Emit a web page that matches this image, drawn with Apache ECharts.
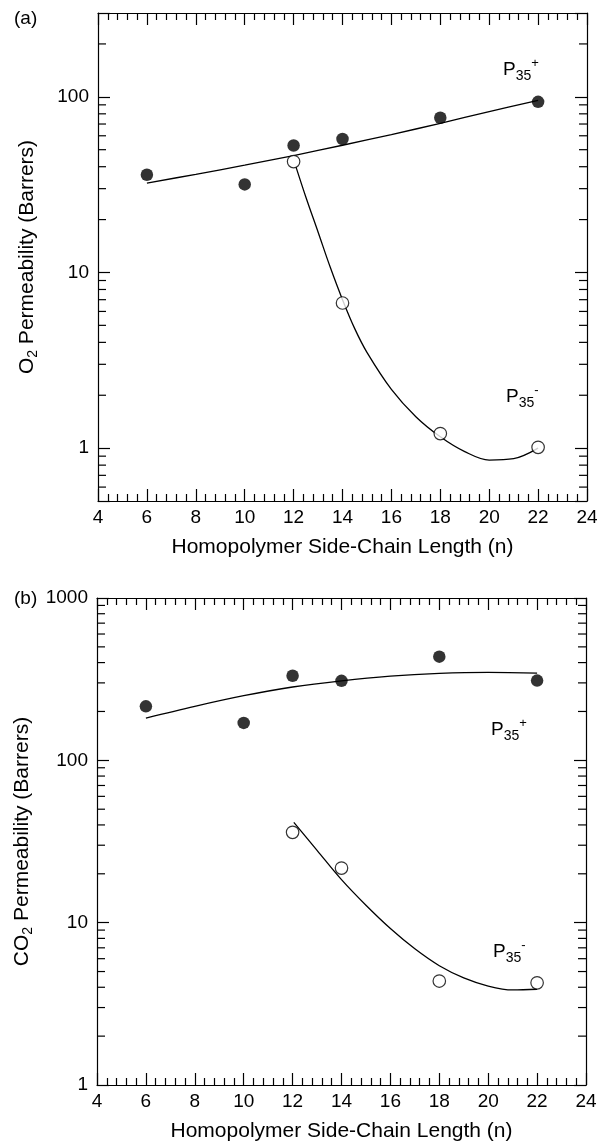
<!DOCTYPE html>
<html><head><meta charset="utf-8">
<script src="https://cdn.jsdelivr.net/npm/echarts@6/dist/echarts.min.js"></script>
<style>html,body{margin:0;padding:0;background:#fff}#c{width:603px;height:1143px}</style>
</head><body><div id="c"></div>
<script>
// ---------- data ----------
// Panel (a): O2 permeability
const nFilledA = [6, 10, 12, 14, 18, 22];
const o2Plus   = [36, 31.7, 52.8, 57.5, 76, 93.6];
const nOpenA   = [12, 14, 18, 22];
const o2Minus  = [42.8, 6.7, 1.21, 1.01];
const fitPlusA_n  = [6, 8, 10, 12, 14, 16, 18, 20, 22];
const fitPlusA_v  = [32.3, 36.2, 40.8, 46.3, 53.0, 61.0, 70.6, 82.4, 95.5];
const fitMinusA_n = [12.1, 12.5, 13, 13.5, 14, 14.5, 15, 16, 17, 18, 19, 20, 21, 22];
const fitMinusA_v = [39.8, 26.9, 17.0, 10.7, 7.0, 4.79, 3.51, 2.16, 1.51, 1.16, 0.955, 0.855, 0.871, 1.0];
// Panel (b): CO2 permeability
const nFilledB = [6, 10, 12, 14, 18, 22];
const co2Plus  = [215, 170, 332, 309, 435, 310];
const nOpenB   = [12, 14, 18, 22];
const co2Minus = [36, 21.7, 4.37, 4.26];
const fitPlusB_n  = [6, 8, 10, 12, 14, 16, 18, 20, 22];
const fitPlusB_v  = [182, 215, 250, 283, 309, 330, 343, 348, 345];
const fitMinusB_n = [12.05, 13, 14, 15, 16, 17, 18, 19, 20, 21, 22];
const fitMinusB_v = [41.5, 27.9, 18.4, 12.8, 9.2, 6.9, 5.43, 4.57, 4.07, 3.85, 3.89];
// axis ticks
const xRange = [4, 24];
const yRangeA = [0.5, 300];
const yRangeB = [1, 1000];
const yMinorA = [0.6, 0.7, 0.8, 0.9, 2, 3, 4, 5, 6, 7, 8, 9, 20, 30, 40, 50, 60, 70, 80, 90, 200];
const yMinorB = [2, 3, 4, 5, 6, 7, 8, 9, 20, 30, 40, 50, 60, 70, 80, 90, 200, 300, 400, 500, 600, 700, 800, 900];
const yTitleA = 'O{sub|2} Permeability (Barrers)';
const yTitleB = 'CO{sub|2} Permeability (Barrers)';
const xTitle = 'Homopolymer Side-Chain Length (n)';

// ---------- chart ----------
const FONT = "'Liberation Sans', Arial, Helvetica, sans-serif";
const LS = {color: '#000', width: 1.2};
const zip = (a, b) => a.map((v, i) => [v, b[i]]);

function xAx(gi, pos) {
  return {
    type: 'value', gridIndex: gi, position: pos, min: xRange[0], max: xRange[1], interval: 2,
    axisLine: {show: true, onZero: false, lineStyle: LS},
    axisTick: {show: true, inside: true, length: 12, lineStyle: LS},
    minorTick: {show: true, splitNumber: 5, length: 7, lineStyle: LS},
    splitLine: {show: false}, minorSplitLine: {show: false},
    axisLabel: {show: pos === 'bottom', color: '#000', fontSize: 19, fontFamily: FONT, margin: 7},
    name: pos === 'bottom' ? xTitle : '', nameLocation: 'middle', nameGap: 36,
    nameTextStyle: {color: '#000', fontSize: 21, fontFamily: FONT}
  };
}
function isDecade(v) { const l = Math.log10(v); return Math.abs(l - Math.round(l)) < 1e-6; }
function yAx(gi, pos, range, title) {
  return {
    type: 'log', logBase: 10, gridIndex: gi, position: pos, min: range[0], max: range[1],
    axisLine: {show: true, onZero: false, lineStyle: LS},
    axisTick: {show: true, inside: true, length: 12, lineStyle: LS},
    splitLine: {show: false},
    axisLabel: {show: pos === 'left', color: '#000', fontSize: 19, fontFamily: FONT, margin: 9,
      formatter: v => isDecade(v) ? String(Math.round(v)) : ''},
    name: pos === 'left' ? title : '', nameLocation: 'middle', nameGap: 58, nameRotate: 90,
    nameTextStyle: {color: '#000', fontSize: 21, fontFamily: FONT, lineHeight: 26,
      rich: {sub: {fontSize: 14, fontFamily: FONT, color: '#000', lineHeight: 14, verticalAlign: 'bottom'}}}
  };
}
function minorSeries(ai, vals) {
  return {
    type: 'custom', xAxisIndex: ai, yAxisIndex: ai, silent: true, clip: false, z: 5,
    data: vals.map(v => [xRange[0], v]),
    renderItem(params, api) {
      const v = api.value(1);
      const a = api.coord([xRange[0], v]);
      const b = api.coord([xRange[1], v]);
      return {type: 'group', children: [
        {type: 'line', shape: {x1: a[0], y1: a[1], x2: a[0] + 8, y2: a[1]}, style: {stroke: '#000', lineWidth: 1.2}},
        {type: 'line', shape: {x1: b[0] - 8, y1: b[1], x2: b[0], y2: b[1]}, style: {stroke: '#000', lineWidth: 1.2}}
      ]};
    }
  };
}
function lineS(ai, n, v) {
  return {type: 'line', xAxisIndex: ai, yAxisIndex: ai, data: zip(n, v), smooth: 0.35, symbol: 'none',
    lineStyle: {color: '#000', width: 1.3}, z: 3, silent: true};
}
function scat(ai, n, v, filled) {
  return {type: 'scatter', xAxisIndex: ai, yAxisIndex: ai, data: zip(n, v), symbol: 'circle', symbolSize: 12.5,
    itemStyle: filled ? {color: '#000'} : {color: '#fff', borderColor: '#000', borderWidth: 1.2}, z: 4, silent: true};
}
function pLabel(x, y, sign) {
  return {type: 'text', x: x, y: y, silent: true, style: {
    text: '{p|P}{s|35}{u|' + sign + '}', verticalAlign: 'middle', align: 'left',
    rich: {
      p: {fontSize: 19, fontFamily: FONT, fill: '#000', lineHeight: 26},
      s: {fontSize: 14, fontFamily: FONT, fill: '#000', lineHeight: 14, verticalAlign: 'bottom'},
      u: {fontSize: 13, fontFamily: FONT, fill: '#000', lineHeight: 13, verticalAlign: 'top'}
    }}};
}
function panelTag(x, y, t) {
  return {type: 'text', x: x, y: y, silent: true, style: {text: t, fontSize: 19, fontFamily: FONT, fill: '#000', verticalAlign: 'middle'}};
}

const chart = echarts.init(document.getElementById('c'), null, {renderer: 'canvas'});
chart.setOption({
  animation: false,
  backgroundColor: '#fff',
  grid: [
    {left: 98, top: 13, width: 489, height: 488},
    {left: 97, top: 598, width: 489, height: 489}
  ],
  xAxis: [xAx(0, 'bottom'), xAx(0, 'top'), xAx(1, 'bottom'), xAx(1, 'top')],
  yAxis: [yAx(0, 'left', yRangeA, yTitleA), yAx(0, 'right', yRangeA, ''), yAx(1, 'left', yRangeB, yTitleB), yAx(1, 'right', yRangeB, '')],
  series: [
    minorSeries(0, yMinorA), minorSeries(2, yMinorB),
    lineS(0, fitPlusA_n, fitPlusA_v), lineS(0, fitMinusA_n, fitMinusA_v),
    lineS(2, fitPlusB_n, fitPlusB_v), lineS(2, fitMinusB_n, fitMinusB_v),
    scat(0, nFilledA, o2Plus, true), scat(0, nOpenA, o2Minus, false),
    scat(2, nFilledB, co2Plus, true), scat(2, nOpenB, co2Minus, false)
  ],
  graphic: [
    panelTag(14, 19, '(a)'), panelTag(14, 599, '(b)'),
    pLabel(503, 70, '+'), pLabel(506, 397, '-'),
    pLabel(491, 730, '+'), pLabel(493, 952, '-')
  ]
});
</script></body></html>
